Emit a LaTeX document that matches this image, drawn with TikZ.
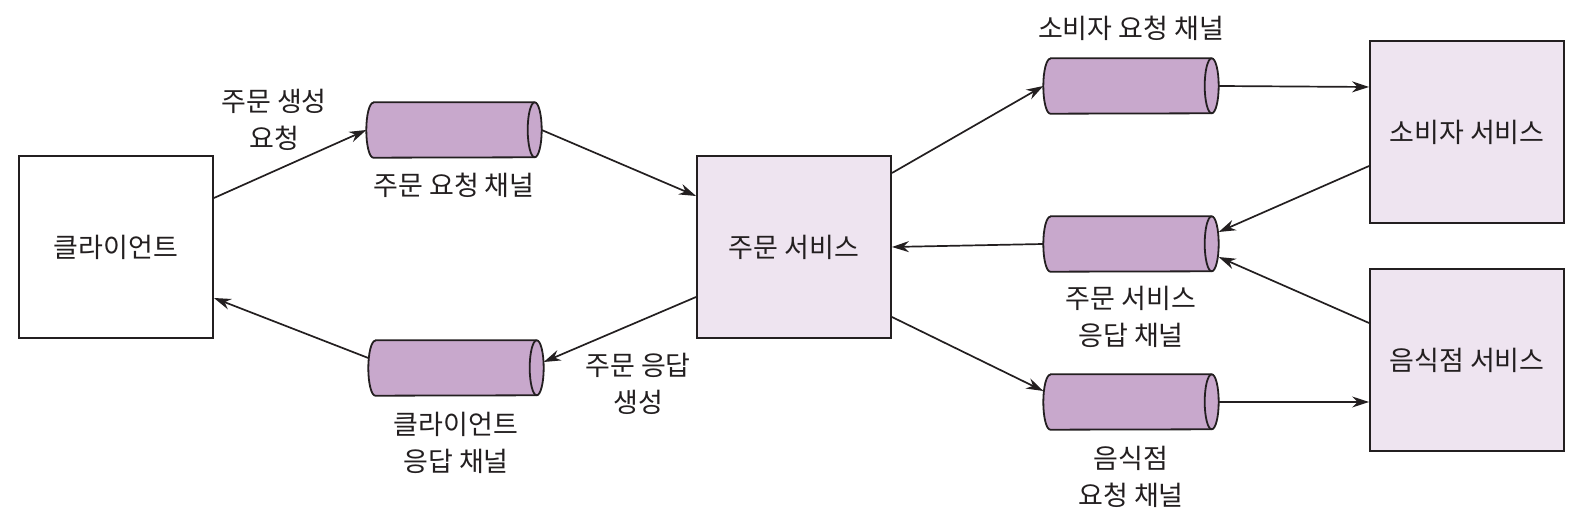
\documentclass[tikz,border=0pt]{standalone}
\usepackage{fontspec}
\setmainfont{Noto Sans CJK KR}
\usetikzlibrary{arrows.meta,positioning}

\definecolor{chanfill}{RGB}{200,168,204}
\definecolor{svcfill}{RGB}{238,228,240}
\definecolor{ink}{RGB}{35,31,32}

\tikzset{
  svcbox/.style={draw=ink, line width=1.9pt, minimum width=194pt, minimum height=182pt,
    fill=svcfill, font=\fontsize{27}{37}\selectfont, text=ink},
  chanbody/.style={minimum width=175pt, minimum height=55pt, inner sep=0pt},
  chanline/.style={draw=ink, line width=1.8pt, fill=chanfill, line join=round},
  msg/.style={-{Stealth[length=17pt,width=11pt]}, line width=1.7pt, draw=ink},
  lbl/.style={font=\fontsize{27}{37}\selectfont, align=center, text=ink},
}

% channel: name, x, y
\newcommand{\channel}[3]{%
  \node[chanbody] (#1) at (#2,#3) {};
  \path[chanline] ([xshift=7pt]#1.north west) -- ([xshift=-7pt]#1.north east)
    arc[start angle=90, end angle=-90, x radius=7pt, y radius=27.5pt]
    -- ([xshift=7pt]#1.south west)
    arc[start angle=270, end angle=90, x radius=7pt, y radius=27.5pt] -- cycle;
  \draw[draw=ink, line width=1.8pt] ([xshift=-7pt]#1.north east)
    arc[start angle=90, end angle=270, x radius=7pt, y radius=27.5pt];
}

\begin{document}
\begin{tikzpicture}[x=1pt,y=1pt]
\useasboundingbox (0,0) rectangle (1593,522);

% services
\node[svcbox, fill=white] (client) at (116,275) {클라이언트};
\node[svcbox] (order) at (794,275) {주문 서비스};
\node[svcbox] (consumer) at (1467,390) {소비자 서비스};
\node[svcbox] (kitchen) at (1467,162) {음식점 서비스};

% channels
\channel{ocr}{454}{392}
\channel{crc}{456}{154}
\channel{csr}{1131}{436}
\channel{osr}{1131}{278}
\channel{rr}{1131}{120}

\node[lbl, below=12pt of ocr] {주문 요청 채널};
\node[lbl, below=13pt of crc] {클라이언트\\응답 채널};
\node[lbl, above=14pt of csr] {소비자 요청 채널};
\node[lbl, below=11pt of osr] {주문 서비스\\응답 채널};
\node[lbl, below=13pt of rr] {음식점\\요청 채널};

\node[lbl] (mkreq) at (274,402) {주문 생성\\요청};
\node[lbl] (mkrep) at (638,138) {주문 응답\\생성};

% messages
\draw[msg] ([yshift=49pt]client.east) -- (ocr.west);
\draw[msg] (ocr.east) -- ([yshift=51pt]order.west);
\draw[msg] ([yshift=-50pt]order.west) -- ([yshift=6pt]crc.east);
\draw[msg] ([yshift=10pt]crc.west) -- ([yshift=-51pt]client.east);

\draw[msg] ([yshift=74pt]order.east) -- (csr.west);
\draw[msg] (csr.east) -- ([yshift=45pt]consumer.west);
\draw[msg] ([yshift=-34pt]consumer.west) -- ([yshift=12pt]osr.east);
\draw[msg] ([yshift=37pt]kitchen.west) -- ([yshift=-13pt]osr.east);
\draw[msg] (osr.west) -- (order.east);
\draw[msg] ([yshift=-70pt]order.east) -- ([yshift=11pt]rr.west);
\draw[msg] (rr.east) -- ([yshift=-42pt]kitchen.west);
\end{tikzpicture}
\end{document}
